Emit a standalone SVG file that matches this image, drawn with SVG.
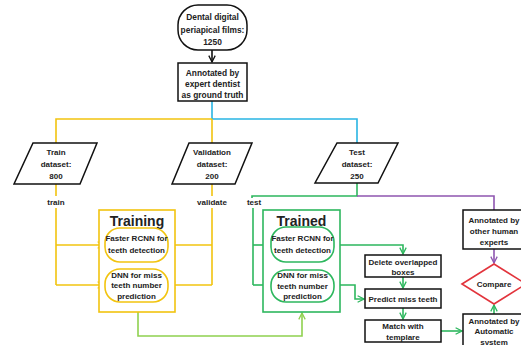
<svg xmlns="http://www.w3.org/2000/svg" width="521" height="345" viewBox="0 0 521 345">
<style>
text{font-family:"Liberation Sans",Arial,sans-serif;font-weight:bold;font-size:8px;fill:#222;text-anchor:middle}
.big{font-size:14px}
.lbl{font-size:8px}
.top{font-size:8.4px}
.k{fill:#fff;stroke:#111;stroke-width:1.5}
.yb{fill:#fff;stroke:#F2C40F;stroke-width:1.6}
.gb{fill:#fff;stroke:#2DB75E;stroke-width:1.6}
.rd{fill:#fff;stroke:#E2343C;stroke-width:1.6}
.c{fill:none;stroke-width:1.6}
.cy{stroke:#29B5E3}
.ye{stroke:#F2C40F}
.gr{stroke:#2DB75E}
.lg{stroke:#8FD14F}
.pu{stroke:#8E55B0}
.bk{stroke:#111}
</style>
<defs>
<marker id="mk" viewBox="0 0 10 10" refX="9" refY="5" markerWidth="8" markerHeight="8" markerUnits="userSpaceOnUse" orient="auto"><path d="M1,1 L9,5 L1,9" fill="none" stroke="#111" stroke-width="1.6"/></marker>
<marker id="my" viewBox="0 0 10 10" refX="9" refY="5" markerWidth="8" markerHeight="8" markerUnits="userSpaceOnUse" orient="auto"><path d="M1,1 L9,5 L1,9" fill="none" stroke="#F2C40F" stroke-width="1.6"/></marker>
<marker id="mg" viewBox="0 0 10 10" refX="9" refY="5" markerWidth="8" markerHeight="8" markerUnits="userSpaceOnUse" orient="auto"><path d="M1,1 L9,5 L1,9" fill="none" stroke="#2DB75E" stroke-width="1.6"/></marker>
<marker id="ml" viewBox="0 0 10 10" refX="9" refY="5" markerWidth="8" markerHeight="8" markerUnits="userSpaceOnUse" orient="auto"><path d="M1,1 L9,5 L1,9" fill="none" stroke="#8FD14F" stroke-width="1.6"/></marker>
<marker id="mp" viewBox="0 0 10 10" refX="9" refY="5" markerWidth="8" markerHeight="8" markerUnits="userSpaceOnUse" orient="auto"><path d="M1,1 L9,5 L1,9" fill="none" stroke="#8E55B0" stroke-width="1.6"/></marker>
</defs>
<rect width="521" height="345" fill="#fff"/>

<g id="connectors">
<path class="c bk" d="M212,50 V62" marker-end="url(#mk)"/>
<path class="c cy" d="M212,101 V119 H357 V143"/>
<path class="c ye" d="M212,119 H56 V143 M212,119 V143"/>
<path class="c ye" d="M56,184 V196 M56,208 V285 M212,184 V196 M212,208 V285"/>
<path class="c ye" d="M56,245 H104" marker-end="url(#my)"/>
<path class="c ye" d="M56,285 H104" marker-end="url(#my)"/>
<path class="c ye" d="M212,245 H169" marker-end="url(#my)"/>
<path class="c ye" d="M212,285 H169" marker-end="url(#my)"/>
<path class="c gr" d="M357,183 V196 H252 V198 M253,208 V285"/>
<path class="c pu" d="M357,196 H494 V210"/>
<path class="c gr" d="M253,245 H270" marker-end="url(#mg)"/>
<path class="c gr" d="M253,285 H270" marker-end="url(#mg)"/>
<path class="c gr" d="M334,245 H403 V254" marker-end="url(#mg)"/>
<path class="c gr" d="M403,277 V288" marker-end="url(#mg)"/>
<path class="c gr" d="M403,308 V319" marker-end="url(#mg)"/>
<path class="c gr" d="M334,285 H355 V299 H364" marker-end="url(#mg)"/>
<path class="c gr" d="M441,331 H462" marker-end="url(#mg)"/>
<path class="c pu" d="M494,249 V263" marker-end="url(#mp)"/>
<path class="c gr" d="M494,314 V305" marker-end="url(#mg)"/>
<path class="c lg" d="M138,312 V336 H302 V313" marker-end="url(#ml)"/>
<text class="lbl" x="56" y="205">train</text>
<text class="lbl" x="212" y="205">validate</text>
<text class="lbl" x="254" y="205">test</text>
</g>

<g id="films">
<rect class="k" x="178" y="5" width="69" height="45" rx="20"/>
<text class="top" x="212.5" y="20">Dental digital</text>
<text class="top" x="212.5" y="32.5">periapical films:</text>
<text class="top" x="212.5" y="45">1250</text>
</g>

<g id="annotated-expert">
<rect class="k" x="178" y="63" width="69" height="38"/>
<text x="212.5" y="75.5" style="font-size:8.4px">Annotated by</text>
<text x="212.5" y="86.5" style="font-size:8.4px">expert dentist</text>
<text x="212.5" y="97.5" style="font-size:8.4px">as ground truth</text>
</g>

<g id="train-dataset">
<polygon class="k" points="33,143 97,143 80,184 14,184"/>
<text x="56" y="155">Train</text>
<text x="56" y="167">dataset:</text>
<text x="56" y="178.5">800</text>
</g>

<g id="validation-dataset">
<polygon class="k" points="189,143 252,143 235,184 172,184"/>
<text x="212" y="155">Validation</text>
<text x="212" y="167">dataset:</text>
<text x="212" y="178.5">200</text>
</g>

<g id="test-dataset">
<polygon class="k" points="337,143 398,143 378,183 315,183"/>
<text x="357" y="155">Test</text>
<text x="357" y="167">dataset:</text>
<text x="357" y="178.5">250</text>
</g>

<g id="training">
<rect class="yb" x="99" y="210" width="76" height="102"/>
<text class="big" x="137" y="226">Training</text>
<rect class="yb" x="105" y="228" width="63" height="34" rx="15"/>
<text x="136.5" y="241">Faster RCNN for</text>
<text x="136.5" y="253">teeth detection</text>
<rect class="yb" x="105" y="269" width="63" height="33" rx="15"/>
<text x="136.5" y="277.5">DNN for miss</text>
<text x="136.5" y="288">teeth number</text>
<text x="136.5" y="298.5">prediction</text>
</g>

<g id="trained">
<rect class="gb" x="263" y="210" width="77" height="102"/>
<text class="big" x="301.5" y="226">Trained</text>
<rect class="gb" x="271" y="227" width="63" height="35" rx="15"/>
<text x="302.5" y="241">Faster RCNN for</text>
<text x="302.5" y="253">teeth detection</text>
<rect class="gb" x="271" y="270" width="63" height="32" rx="15"/>
<text x="302.5" y="278">DNN for miss</text>
<text x="302.5" y="288.5">teeth number</text>
<text x="302.5" y="299">prediction</text>
</g>

<g id="delete-overlapped">
<rect class="k" x="365" y="255" width="76" height="22"/>
<text x="403" y="264.5">Delete overlapped</text>
<text x="403" y="274.5">boxes</text>
</g>

<g id="predict-miss">
<rect class="k" x="365" y="289" width="76" height="19"/>
<text x="403" y="301.5">Predict miss teeth</text>
</g>

<g id="match-template">
<rect class="k" x="365" y="320" width="76" height="22"/>
<text x="403" y="328.5">Match with</text>
<text x="403" y="339.5">templare</text>
</g>

<g id="human-experts">
<rect class="k" x="463" y="210" width="64" height="39"/>
<text x="494" y="223">Annotated by</text>
<text x="494" y="234">other human</text>
<text x="494" y="245">experts</text>
</g>

<g id="compare">
<polygon class="rd" points="462,284 494,264 526,284 494,304"/>
<text x="494" y="287">Compare</text>
</g>

<g id="automatic">
<rect class="k" x="463" y="314" width="64" height="40"/>
<text x="494" y="323.5">Annotated by</text>
<text x="494" y="334">Automatic</text>
<text x="494" y="344.5">system</text>
</g>
</svg>
